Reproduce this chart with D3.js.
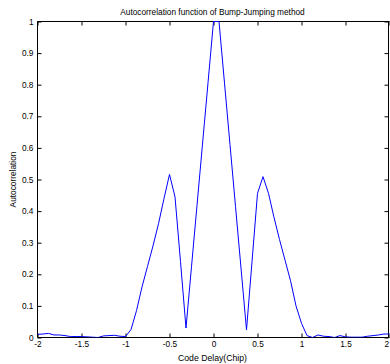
<!DOCTYPE html>
<html><head><meta charset="utf-8">
<script src="https://cdn.jsdelivr.net/npm/d3@7"></script>
<style>body{margin:0;background:#fff}text{font-family:"Liberation Sans",Arial,sans-serif}</style>
</head><body>
<svg id="c" width="390" height="364"></svg>
<script>
// Code delay (chip) samples, step 1/16
const codeDelay = d3.range(65).map(k => -2 + k / 16);
const autocorr = [
  0.010, 0.011, 0.013, 0.008, 0.008, 0.006, 0.003, 0.003, 0.003, 0.002, 0.001, 0.000, 0.005, 0.006, 0.007, 0.004,
  0.003, 0.025, 0.085, 0.160, 0.225, 0.290, 0.360, 0.440, 0.516, 0.445, 0.240, 0.030, 0.224, 0.418, 0.612, 0.806,
  1.000, 1.000, 0.805, 0.610, 0.415, 0.220, 0.024, 0.240, 0.456, 0.509, 0.456, 0.380, 0.310, 0.245, 0.180, 0.100,
  0.045, 0.006, 0.000, 0.008, 0.004, 0.003, 0.000, 0.006, 0.002, 0.001, 0.001, 0.001, 0.004, 0.006, 0.008, 0.011,
  0.011
];
const xTicks = [-2, -1.5, -1, -0.5, 0, 0.5, 1, 1.5, 2];
const yTicks = [0, 0.1, 0.2, 0.3, 0.4, 0.5, 0.6, 0.7, 0.8, 0.9, 1];
const titleText = "Autocorrelation function of Bump-Jumping method";
const xLabel = "Code Delay(Chip)";
const yLabel = "Autocorrelation";

const L = 37.5, R = 389.5, T = 21.5, B = 337.5;
const svg = d3.select("#c");
const x = d3.scaleLinear().domain([-2, 2]).range([L, R]);
const y = d3.scaleLinear().domain([0, 1]).range([B, T]);

svg.append("defs").append("clipPath").attr("id", "clip")
  .append("rect").attr("x", L).attr("y", T - 1).attr("width", R - L).attr("height", B - T + 1);

const fs = 8.3;

// bottom axis
const gx = svg.append("g").attr("transform", `translate(0,${B})`)
  .call(d3.axisBottom(x).tickValues(xTicks).tickSize(-4).tickPadding(4).tickFormat(d => String(d)));
// top axis
const gxt = svg.append("g").attr("transform", `translate(0,${T})`)
  .call(d3.axisTop(x).tickValues(xTicks).tickSize(-4).tickFormat(""));
// left axis
const gy = svg.append("g").attr("transform", `translate(${L},0)`)
  .call(d3.axisLeft(y).tickValues(yTicks).tickSize(-4).tickPadding(4).tickFormat(d => String(d)));
// right axis
const gyr = svg.append("g").attr("transform", `translate(${R - 1},0)`)
  .call(d3.axisRight(y).tickValues(yTicks).tickSize(-4).tickFormat(""));

[gx, gxt, gy, gyr].forEach(g => {
  g.selectAll(".domain").attr("stroke", "#000").attr("stroke-width", 1);
  g.selectAll(".tick line").attr("stroke", "#000");
  g.selectAll("text").attr("font-size", fs).attr("fill", "#000")
    .style("font-family", '"Liberation Sans", Arial, sans-serif');
});
gx.selectAll(".domain").attr("d", `M${L},0H${R}`);
gxt.selectAll(".domain").attr("d", `M${L},0H${R}`);
gy.selectAll(".domain").attr("d", `M0,${B}V${T}`);
gyr.selectAll(".domain").attr("d", `M0,${B}V${T}`);
// keep the last x tick label inside the canvas
gx.selectAll(".tick text").filter(d => d === 2).attr("text-anchor", "end").attr("dx", -1);

const line = d3.line().x((d, i) => x(codeDelay[i])).y(d => y(d));
svg.append("path").datum(autocorr).attr("clip-path", "url(#clip)")
  .attr("d", line).attr("fill", "none").attr("stroke", "#0000ff").attr("stroke-width", 1);

svg.append("text").attr("x", (L + R) / 2 - 1).attr("y", 15).attr("text-anchor", "middle")
  .attr("font-size", fs).text(titleText);
svg.append("text").attr("x", (L + R) / 2 - 1).attr("y", 361).attr("text-anchor", "middle")
  .attr("font-size", fs + 0.4).text(xLabel);
svg.append("text").attr("transform", `translate(16,${(T + B) / 2}) rotate(-90)`).attr("text-anchor", "middle")
  .attr("font-size", fs).text(yLabel);
</script>
</body></html>
